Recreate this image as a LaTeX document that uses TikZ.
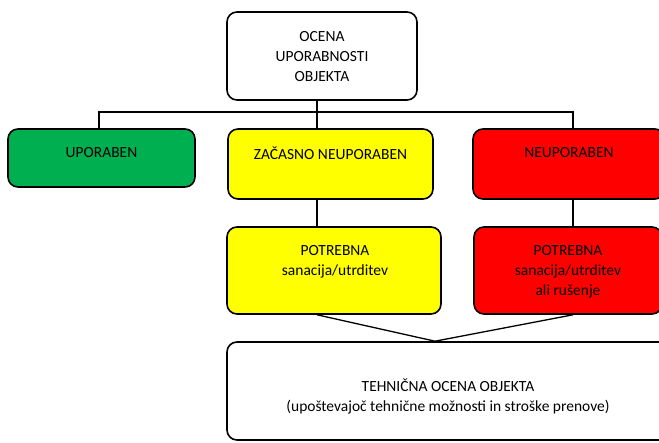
\documentclass[tikz,border=0pt]{standalone}
\usepackage{fontspec}
\setmainfont{Carlito}
\definecolor{bgreen}{HTML}{00B050}
\definecolor{byellow}{HTML}{FFFF00}
\definecolor{bred}{HTML}{FF0000}
\begin{document}
\begin{tikzpicture}[x=1pt,y=-1pt,
  box/.style={draw=black,line width=1.6pt,rounded corners=10pt,inner sep=0pt,rectangle},
  txt/.style={inner sep=0pt,align=center,font=\fontsize{15.5}{20}\selectfont},
  conn/.style={draw=black,line width=1.3pt}]
\useasboundingbox (0,0) rectangle (659,443);
\clip (0,0) rectangle (659,443);
% boxes
\node[box,fill=white,minimum width=190pt,minimum height=88pt] (top) at (322,56) {};
\node[box,fill=bgreen,minimum width=187pt,minimum height=58pt] (upo) at (101.5,158) {};
\node[box,fill=byellow,minimum width=205pt,minimum height=70pt] (zac) at (330.5,164) {};
\node[box,fill=bred,minimum width=192pt,minimum height=70pt] (neu) at (569,164) {};
\node[box,fill=byellow,minimum width=214pt,minimum height=87pt] (pzac) at (334,270.5) {};
\node[box,fill=bred,minimum width=188pt,minimum height=87pt] (pneu) at (568,270.5) {};
\node[box,fill=white,minimum width=518pt,minimum height=98pt] (teh) at (486,391) {};
% texts
\node[txt] (ttop) at (322,56.5) {OCENA\\UPORABNOSTI\\OBJEKTA};
\node[txt] (tupo) at (101.5,153) {UPORABEN};
\node[txt] (tzac) at (330.5,153) {ZAČASNO NEUPORABEN};
\node[txt] (tneu) at (569,153) {NEUPORABEN};
\node[txt] (tpzac) at (335,262) {POTREBNA\\sanacija/utrditev};
\node[txt] (tpneu) at (568,272) {POTREBNA\\sanacija/utrditev\\ali rušenje};
\node[txt] (tteh) at (448,396) {TEHNIČNA OCENA OBJEKTA\\(upoštevajoč tehnične možnosti in stroške prenove)};
% connectors
\coordinate (busL) at (99,112);
\coordinate (busM) at (317,112);
\coordinate (busR) at (573,112);
\coordinate (meet) at (435,342);
\draw[conn] (busL |- upo.north) -- (busL) -- (busR) -- (busR |- neu.north);
\draw[conn] (busM |- top.south) -- (busM |- zac.north);
\draw[conn] (busM |- zac.south) -- (busM |- pzac.north);
\draw[conn] (busR |- neu.south) -- (busR |- pneu.north);
\draw[conn] (busM |- pzac.south) -- (meet |- teh.north) -- (busR |- pneu.south);
\end{tikzpicture}
\end{document}
